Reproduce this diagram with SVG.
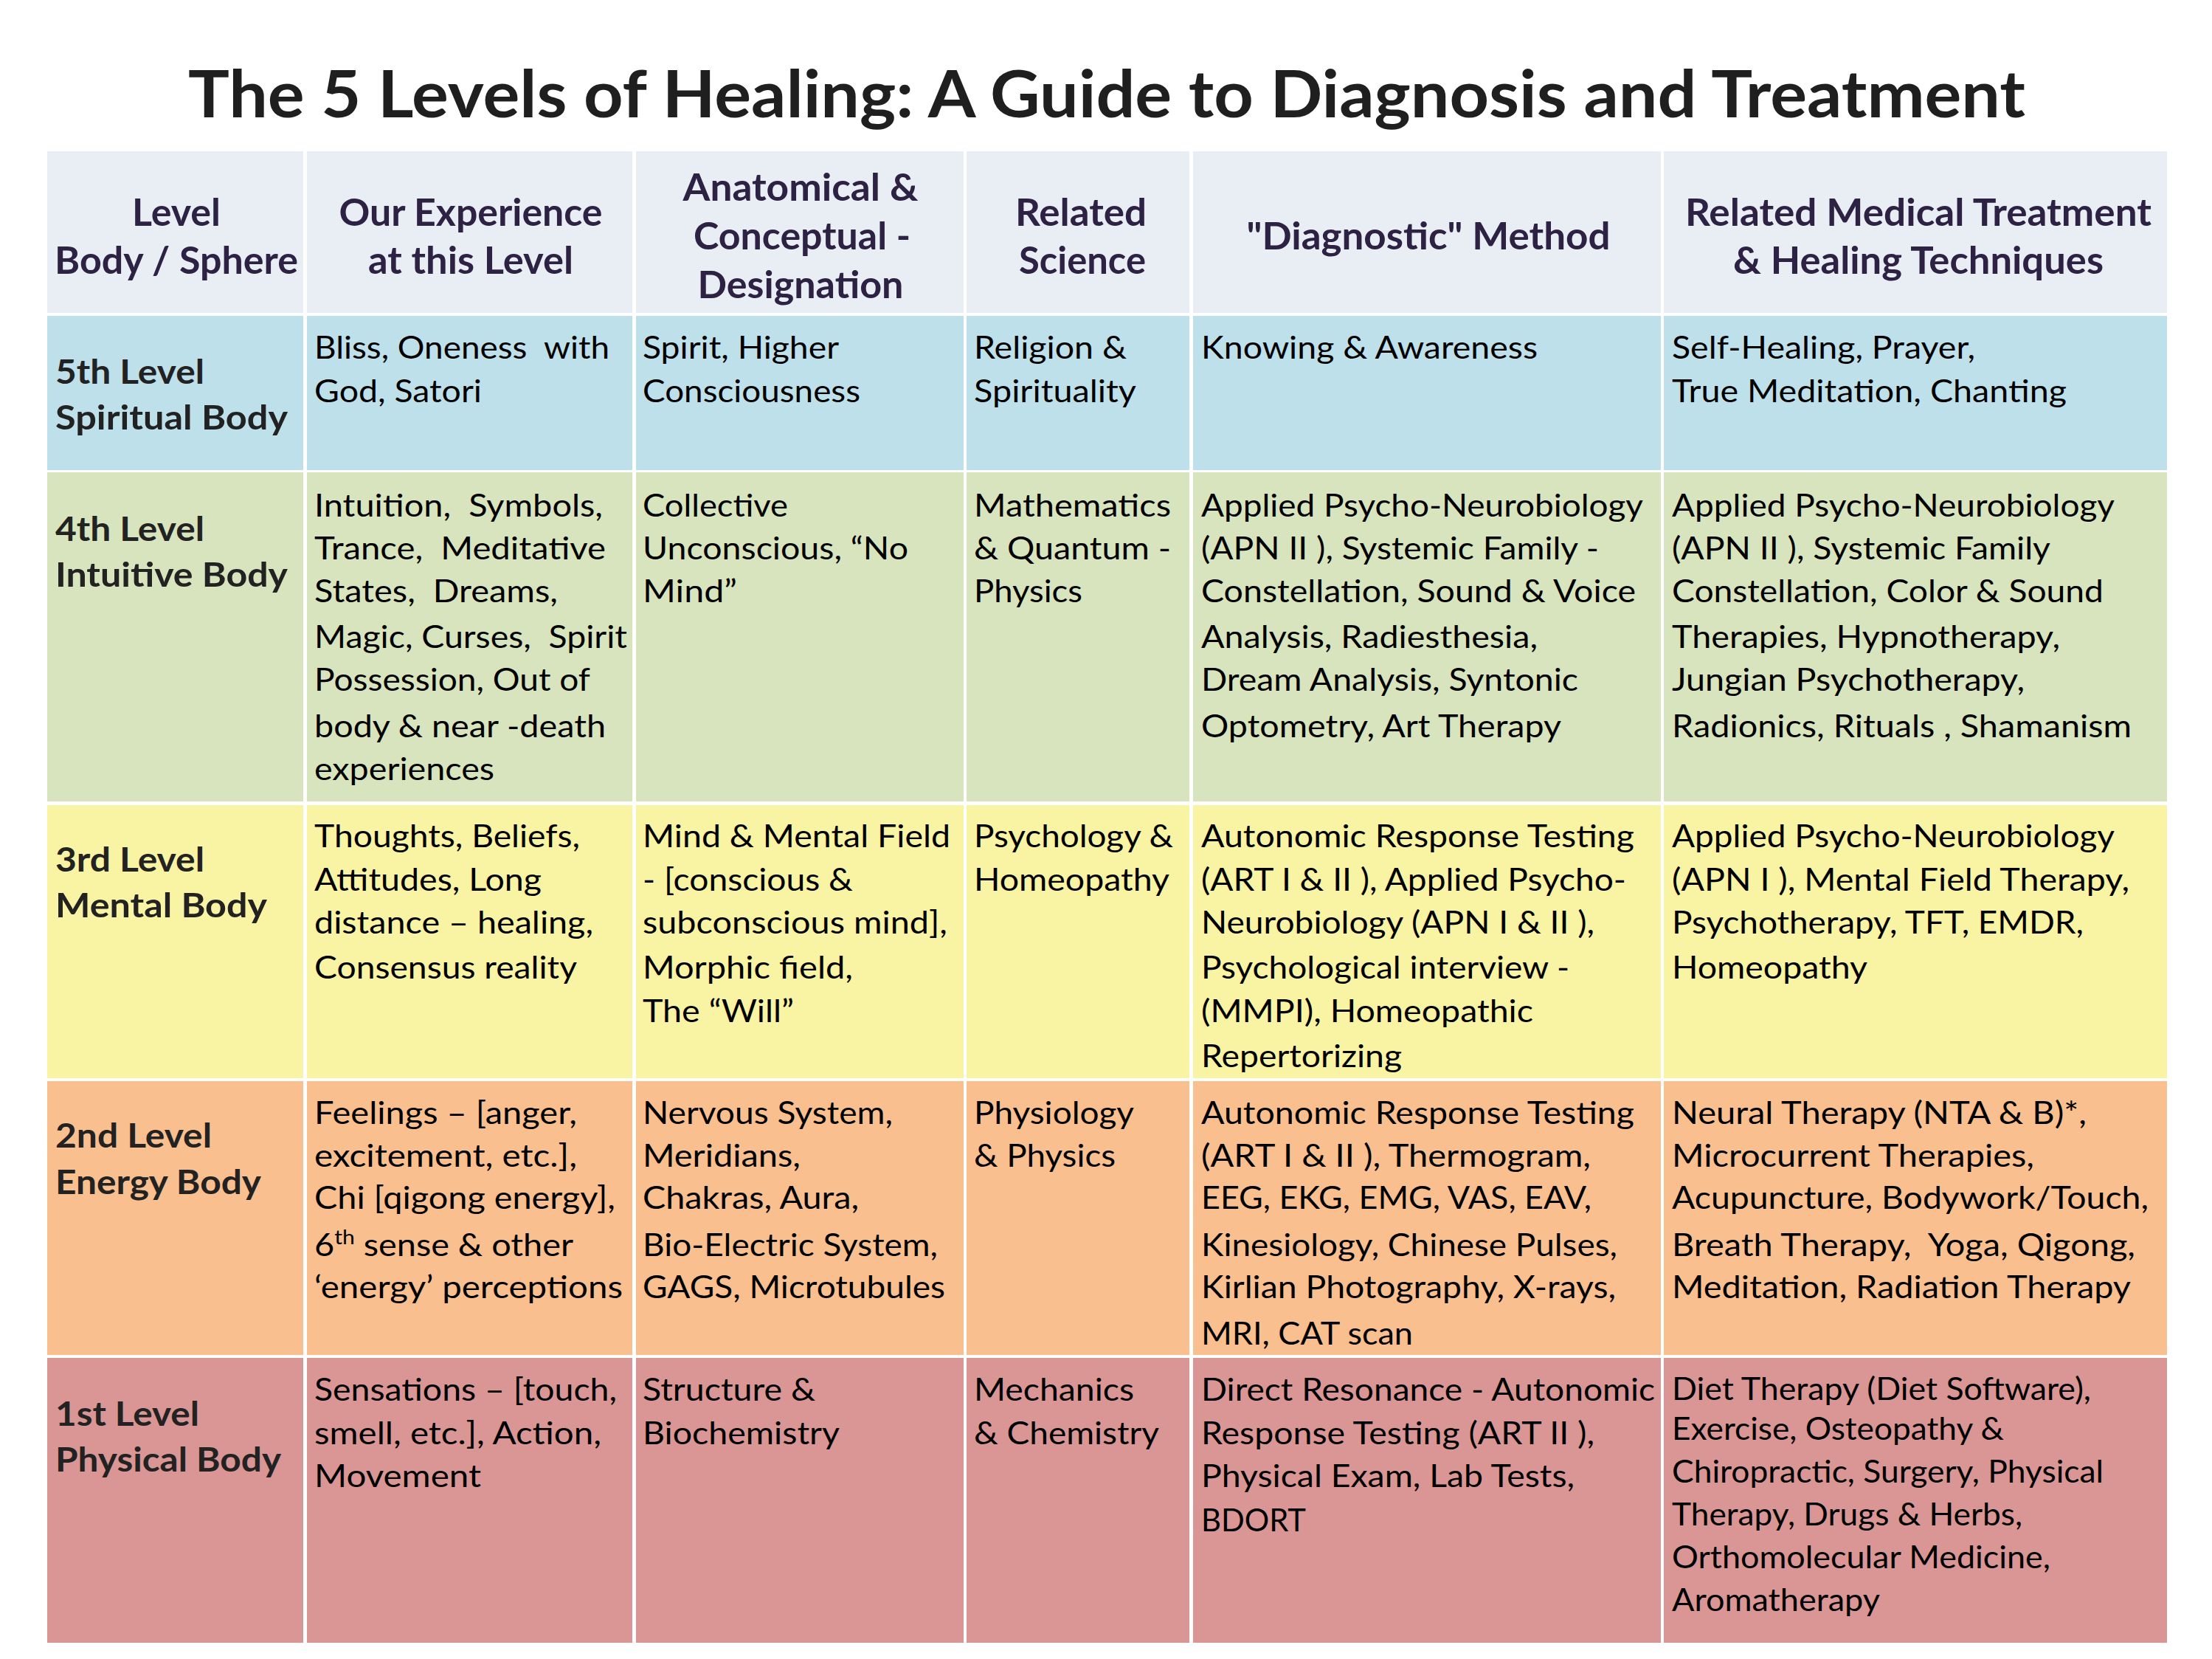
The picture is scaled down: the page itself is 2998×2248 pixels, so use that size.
<svg xmlns="http://www.w3.org/2000/svg" width="2998" height="2248" viewBox="0 0 2998 2248" xml:space="preserve">
<style>
text{font-family:Lato,"Open Sans","Liberation Sans",sans-serif;white-space:pre}
.ti{font-size:88px;font-weight:700;fill:#1f1f1f;text-anchor:middle}
.h{font-size:51px;font-weight:700;fill:#2e2244;text-anchor:middle}
.l{font-size:46px;font-weight:700;fill:#222222}
.b{font-size:42px;fill:#000000}
.hd{fill:#e9edf4}.r5{fill:#bee0ea}.r4{fill:#d8e4bd}.r3{fill:#f9f3a4}.r2{fill:#f9bf8f}.r1{fill:#d99694}
</style>
<rect width="2998" height="2248" fill="#ffffff"/>
<text id="title" class="ti" x="1500" y="159" textLength="2490" lengthAdjust="spacingAndGlyphs">The 5 Levels of Healing: A Guide to Diagnosis and Treatment</text>

<g id="header">
<rect class="hd" x="64" y="205" width="347" height="219"/>
<rect class="hd" x="416" y="205" width="441" height="219"/>
<rect class="hd" x="862" y="205" width="444" height="219"/>
<rect class="hd" x="1310" y="205" width="302" height="219"/>
<rect class="hd" x="1617" y="205" width="634" height="219"/>
<rect class="hd" x="2255" y="205" width="682" height="219"/>
<text class="h" x="239" y="306" textLength="120" lengthAdjust="spacingAndGlyphs">Level</text>
<text class="h" x="239" y="371" textLength="330" lengthAdjust="spacingAndGlyphs">Body / Sphere</text>
<text class="h" x="638" y="306" textLength="357" lengthAdjust="spacingAndGlyphs">Our Experience</text>
<text class="h" x="638" y="371" textLength="278" lengthAdjust="spacingAndGlyphs">at this Level</text>
<text class="h" x="1085" y="272" textLength="319" lengthAdjust="spacingAndGlyphs">Anatomical &amp;</text>
<text class="h" x="1087" y="338" textLength="294" lengthAdjust="spacingAndGlyphs">Conceptual -</text>
<text class="h" x="1085" y="404" textLength="279" lengthAdjust="spacingAndGlyphs">Designation</text>
<text class="h" x="1465" y="306" textLength="178" lengthAdjust="spacingAndGlyphs">Related</text>
<text class="h" x="1467" y="371" textLength="172" lengthAdjust="spacingAndGlyphs">Science</text>
<text class="h" x="1936" y="338" textLength="493" lengthAdjust="spacingAndGlyphs">"Diagnostic" Method</text>
<text class="h" x="2600" y="306" textLength="632" lengthAdjust="spacingAndGlyphs">Related Medical Treatment</text>
<text class="h" x="2600" y="371" textLength="502" lengthAdjust="spacingAndGlyphs">&amp; Healing Techniques</text>
</g>

<g id="level5">
<rect class="r5" x="64" y="428" width="347" height="209"/>
<rect class="r5" x="416" y="428" width="441" height="209"/>
<rect class="r5" x="862" y="428" width="444" height="209"/>
<rect class="r5" x="1310" y="428" width="302" height="209"/>
<rect class="r5" x="1617" y="428" width="634" height="209"/>
<rect class="r5" x="2255" y="428" width="682" height="209"/>
<text class="l" x="75" y="520" textLength="202" lengthAdjust="spacingAndGlyphs">5th Level</text>
<text class="l" x="75" y="582" textLength="315" lengthAdjust="spacingAndGlyphs">Spiritual Body</text>
<text class="b" x="426" y="486" textLength="400" lengthAdjust="spacingAndGlyphs">Bliss, Oneness  with</text>
<text class="b" x="426" y="545" textLength="227" lengthAdjust="spacingAndGlyphs">God, Satori</text>
<text class="b" x="871" y="486" textLength="266" lengthAdjust="spacingAndGlyphs">Spirit, Higher</text>
<text class="b" x="871" y="545" textLength="295" lengthAdjust="spacingAndGlyphs">Consciousness</text>
<text class="b" x="1320" y="486" textLength="207" lengthAdjust="spacingAndGlyphs">Religion &amp;</text>
<text class="b" x="1320" y="545" textLength="220" lengthAdjust="spacingAndGlyphs">Spirituality</text>
<text class="b" x="1628" y="486" textLength="456" lengthAdjust="spacingAndGlyphs">Knowing &amp; Awareness</text>
<text class="b" x="2266" y="486" textLength="411" lengthAdjust="spacingAndGlyphs">Self-Healing, Prayer,</text>
<text class="b" x="2266" y="545" textLength="535" lengthAdjust="spacingAndGlyphs">True Meditation, Chanting</text>
</g>

<g id="level4">
<rect class="r4" x="64" y="640" width="347" height="446"/>
<rect class="r4" x="416" y="640" width="441" height="446"/>
<rect class="r4" x="862" y="640" width="444" height="446"/>
<rect class="r4" x="1310" y="640" width="302" height="446"/>
<rect class="r4" x="1617" y="640" width="634" height="446"/>
<rect class="r4" x="2255" y="640" width="682" height="446"/>
<text class="l" x="75" y="733" textLength="202" lengthAdjust="spacingAndGlyphs">4th Level</text>
<text class="l" x="75" y="795" textLength="315" lengthAdjust="spacingAndGlyphs">Intuitive Body</text>
<text class="b" x="426" y="700" textLength="391" lengthAdjust="spacingAndGlyphs">Intuition,  Symbols,</text>
<text class="b" x="426" y="758" textLength="395" lengthAdjust="spacingAndGlyphs">Trance,  Meditative</text>
<text class="b" x="426" y="816" textLength="330" lengthAdjust="spacingAndGlyphs">States,  Dreams,</text>
<text class="b" x="426" y="878" textLength="424" lengthAdjust="spacingAndGlyphs">Magic, Curses,  Spirit</text>
<text class="b" x="426" y="936" textLength="374" lengthAdjust="spacingAndGlyphs">Possession, Out of</text>
<text class="b" x="426" y="999" textLength="395" lengthAdjust="spacingAndGlyphs">body &amp; near -death</text>
<text class="b" x="426" y="1057" textLength="244" lengthAdjust="spacingAndGlyphs">experiences</text>
<text class="b" x="871" y="700" textLength="197" lengthAdjust="spacingAndGlyphs">Collective</text>
<text class="b" x="871" y="758" textLength="360" lengthAdjust="spacingAndGlyphs">Unconscious, “No</text>
<text class="b" x="871" y="816" textLength="128" lengthAdjust="spacingAndGlyphs">Mind”</text>
<text class="b" x="1320" y="700" textLength="267" lengthAdjust="spacingAndGlyphs">Mathematics</text>
<text class="b" x="1320" y="758" textLength="267" lengthAdjust="spacingAndGlyphs">&amp; Quantum -</text>
<text class="b" x="1320" y="816" textLength="147" lengthAdjust="spacingAndGlyphs">Physics</text>
<text class="b" x="1628" y="700" textLength="599" lengthAdjust="spacingAndGlyphs">Applied Psycho-Neurobiology</text>
<text class="b" x="1628" y="758" textLength="539" lengthAdjust="spacingAndGlyphs">(APN II ), Systemic Family -</text>
<text class="b" x="1628" y="816" textLength="589" lengthAdjust="spacingAndGlyphs">Constellation, Sound &amp; Voice</text>
<text class="b" x="1628" y="878" textLength="456" lengthAdjust="spacingAndGlyphs">Analysis, Radiesthesia,</text>
<text class="b" x="1628" y="936" textLength="511" lengthAdjust="spacingAndGlyphs">Dream Analysis, Syntonic</text>
<text class="b" x="1628" y="999" textLength="488" lengthAdjust="spacingAndGlyphs">Optometry, Art Therapy</text>
<text class="b" x="2266" y="700" textLength="600" lengthAdjust="spacingAndGlyphs">Applied Psycho-Neurobiology</text>
<text class="b" x="2266" y="758" textLength="513" lengthAdjust="spacingAndGlyphs">(APN II ), Systemic Family</text>
<text class="b" x="2266" y="816" textLength="585" lengthAdjust="spacingAndGlyphs">Constellation, Color &amp; Sound</text>
<text class="b" x="2266" y="878" textLength="526" lengthAdjust="spacingAndGlyphs">Therapies, Hypnotherapy,</text>
<text class="b" x="2266" y="936" textLength="478" lengthAdjust="spacingAndGlyphs">Jungian Psychotherapy,</text>
<text class="b" x="2266" y="999" textLength="623" lengthAdjust="spacingAndGlyphs">Radionics, Rituals , Shamanism</text>
</g>

<g id="level3">
<rect class="r3" x="64" y="1091" width="347" height="370"/>
<rect class="r3" x="416" y="1091" width="441" height="370"/>
<rect class="r3" x="862" y="1091" width="444" height="370"/>
<rect class="r3" x="1310" y="1091" width="302" height="370"/>
<rect class="r3" x="1617" y="1091" width="634" height="370"/>
<rect class="r3" x="2255" y="1091" width="682" height="370"/>
<text class="l" x="75" y="1181" textLength="202" lengthAdjust="spacingAndGlyphs">3rd Level</text>
<text class="l" x="75" y="1243" textLength="287" lengthAdjust="spacingAndGlyphs">Mental Body</text>
<text class="b" x="426" y="1148" textLength="360" lengthAdjust="spacingAndGlyphs">Thoughts, Beliefs,</text>
<text class="b" x="426" y="1207" textLength="308" lengthAdjust="spacingAndGlyphs">Attitudes, Long</text>
<text class="b" x="426" y="1265" textLength="378" lengthAdjust="spacingAndGlyphs">distance – healing,</text>
<text class="b" x="426" y="1326" textLength="356" lengthAdjust="spacingAndGlyphs">Consensus reality</text>
<text class="b" x="871" y="1148" textLength="417" lengthAdjust="spacingAndGlyphs">Mind &amp; Mental Field</text>
<text class="b" x="871" y="1207" textLength="285" lengthAdjust="spacingAndGlyphs">- [conscious &amp;</text>
<text class="b" x="871" y="1265" textLength="413" lengthAdjust="spacingAndGlyphs">subconscious mind],</text>
<text class="b" x="871" y="1326" textLength="285" lengthAdjust="spacingAndGlyphs">Morphic field,</text>
<text class="b" x="871" y="1385" textLength="205" lengthAdjust="spacingAndGlyphs">The “Will”</text>
<text class="b" x="1320" y="1148" textLength="270" lengthAdjust="spacingAndGlyphs">Psychology &amp;</text>
<text class="b" x="1320" y="1207" textLength="265" lengthAdjust="spacingAndGlyphs">Homeopathy</text>
<text class="b" x="1628" y="1148" textLength="587" lengthAdjust="spacingAndGlyphs">Autonomic Response Testing</text>
<text class="b" x="1628" y="1207" textLength="576" lengthAdjust="spacingAndGlyphs">(ART I &amp; II ), Applied Psycho-</text>
<text class="b" x="1628" y="1265" textLength="533" lengthAdjust="spacingAndGlyphs">Neurobiology (APN I &amp; II ),</text>
<text class="b" x="1628" y="1326" textLength="499" lengthAdjust="spacingAndGlyphs">Psychological interview -</text>
<text class="b" x="1628" y="1385" textLength="450" lengthAdjust="spacingAndGlyphs">(MMPI), Homeopathic</text>
<text class="b" x="1628" y="1446" textLength="272" lengthAdjust="spacingAndGlyphs">Repertorizing</text>
<text class="b" x="2266" y="1148" textLength="600" lengthAdjust="spacingAndGlyphs">Applied Psycho-Neurobiology</text>
<text class="b" x="2266" y="1207" textLength="620" lengthAdjust="spacingAndGlyphs">(APN I ), Mental Field Therapy,</text>
<text class="b" x="2266" y="1265" textLength="558" lengthAdjust="spacingAndGlyphs">Psychotherapy, TFT, EMDR,</text>
<text class="b" x="2266" y="1326" textLength="265" lengthAdjust="spacingAndGlyphs">Homeopathy</text>
</g>

<g id="level2">
<rect class="r2" x="64" y="1465" width="347" height="371"/>
<rect class="r2" x="416" y="1465" width="441" height="371"/>
<rect class="r2" x="862" y="1465" width="444" height="371"/>
<rect class="r2" x="1310" y="1465" width="302" height="371"/>
<rect class="r2" x="1617" y="1465" width="634" height="371"/>
<rect class="r2" x="2255" y="1465" width="682" height="371"/>
<text class="l" x="75" y="1555" textLength="212" lengthAdjust="spacingAndGlyphs">2nd Level</text>
<text class="l" x="75" y="1618" textLength="279" lengthAdjust="spacingAndGlyphs">Energy Body</text>
<text class="b" x="426" y="1523" textLength="356" lengthAdjust="spacingAndGlyphs">Feelings – [anger,</text>
<text class="b" x="426" y="1581" textLength="356" lengthAdjust="spacingAndGlyphs">excitement, etc.],</text>
<text class="b" x="426" y="1638" textLength="408" lengthAdjust="spacingAndGlyphs">Chi [qigong energy],</text>
<text class="b" x="426" y="1702" textLength="351" lengthAdjust="spacingAndGlyphs">6<tspan font-size="27" dy="-16">th</tspan><tspan dy="16"> sense &amp; other</tspan></text>
<text class="b" x="426" y="1759" textLength="418" lengthAdjust="spacingAndGlyphs">‘energy’ perceptions</text>
<text class="b" x="871" y="1523" textLength="339" lengthAdjust="spacingAndGlyphs">Nervous System,</text>
<text class="b" x="871" y="1581" textLength="214" lengthAdjust="spacingAndGlyphs">Meridians,</text>
<text class="b" x="871" y="1638" textLength="293" lengthAdjust="spacingAndGlyphs">Chakras, Aura,</text>
<text class="b" x="871" y="1702" textLength="400" lengthAdjust="spacingAndGlyphs">Bio-Electric System,</text>
<text class="b" x="871" y="1759" textLength="410" lengthAdjust="spacingAndGlyphs">GAGS, Microtubules</text>
<text class="b" x="1320" y="1523" textLength="217" lengthAdjust="spacingAndGlyphs">Physiology</text>
<text class="b" x="1320" y="1581" textLength="192" lengthAdjust="spacingAndGlyphs">&amp; Physics</text>
<text class="b" x="1628" y="1523" textLength="587" lengthAdjust="spacingAndGlyphs">Autonomic Response Testing</text>
<text class="b" x="1628" y="1581" textLength="528" lengthAdjust="spacingAndGlyphs">(ART I &amp; II ), Thermogram,</text>
<text class="b" x="1628" y="1638" textLength="529" lengthAdjust="spacingAndGlyphs">EEG, EKG, EMG, VAS, EAV,</text>
<text class="b" x="1628" y="1702" textLength="564" lengthAdjust="spacingAndGlyphs">Kinesiology, Chinese Pulses,</text>
<text class="b" x="1628" y="1759" textLength="562" lengthAdjust="spacingAndGlyphs">Kirlian Photography, X-rays,</text>
<text class="b" x="1628" y="1822" textLength="287" lengthAdjust="spacingAndGlyphs">MRI, CAT scan</text>
<text class="b" x="2266" y="1523" textLength="562" lengthAdjust="spacingAndGlyphs">Neural Therapy (NTA &amp; B)*,</text>
<text class="b" x="2266" y="1581" textLength="491" lengthAdjust="spacingAndGlyphs">Microcurrent Therapies,</text>
<text class="b" x="2266" y="1638" textLength="646" lengthAdjust="spacingAndGlyphs">Acupuncture, Bodywork/Touch,</text>
<text class="b" x="2266" y="1702" textLength="628" lengthAdjust="spacingAndGlyphs">Breath Therapy,  Yoga, Qigong,</text>
<text class="b" x="2266" y="1759" textLength="622" lengthAdjust="spacingAndGlyphs">Meditation, Radiation Therapy</text>
</g>

<g id="level1">
<rect class="r1" x="64" y="1840" width="347" height="386"/>
<rect class="r1" x="416" y="1840" width="441" height="386"/>
<rect class="r1" x="862" y="1840" width="444" height="386"/>
<rect class="r1" x="1310" y="1840" width="302" height="386"/>
<rect class="r1" x="1617" y="1840" width="634" height="386"/>
<rect class="r1" x="2255" y="1840" width="682" height="386"/>
<text class="l" x="75" y="1932" textLength="195" lengthAdjust="spacingAndGlyphs">1st Level</text>
<text class="l" x="75" y="1994" textLength="306" lengthAdjust="spacingAndGlyphs">Physical Body</text>
<text class="b" x="426" y="1898" textLength="410" lengthAdjust="spacingAndGlyphs">Sensations – [touch,</text>
<text class="b" x="426" y="1957" textLength="389" lengthAdjust="spacingAndGlyphs">smell, etc.], Action,</text>
<text class="b" x="426" y="2015" textLength="226" lengthAdjust="spacingAndGlyphs">Movement</text>
<text class="b" x="871" y="1898" textLength="234" lengthAdjust="spacingAndGlyphs">Structure &amp;</text>
<text class="b" x="871" y="1957" textLength="267" lengthAdjust="spacingAndGlyphs">Biochemistry</text>
<text class="b" x="1320" y="1898" textLength="217" lengthAdjust="spacingAndGlyphs">Mechanics</text>
<text class="b" x="1320" y="1957" textLength="251" lengthAdjust="spacingAndGlyphs">&amp; Chemistry</text>
<text class="b" x="1628" y="1898" textLength="615" lengthAdjust="spacingAndGlyphs">Direct Resonance - Autonomic</text>
<text class="b" x="1628" y="1957" textLength="533" lengthAdjust="spacingAndGlyphs">Response Testing (ART II ),</text>
<text class="b" x="1628" y="2015" textLength="506" lengthAdjust="spacingAndGlyphs">Physical Exam, Lab Tests,</text>
<text class="b" x="1628" y="2075" textLength="142" lengthAdjust="spacingAndGlyphs">BDORT</text>
<text class="b" x="2266" y="1897" textLength="568" lengthAdjust="spacingAndGlyphs">Diet Therapy (Diet Software),</text>
<text class="b" x="2266" y="1951" textLength="450" lengthAdjust="spacingAndGlyphs">Exercise, Osteopathy &amp;</text>
<text class="b" x="2266" y="2009" textLength="585" lengthAdjust="spacingAndGlyphs">Chiropractic, Surgery, Physical</text>
<text class="b" x="2266" y="2067" textLength="475" lengthAdjust="spacingAndGlyphs">Therapy, Drugs &amp; Herbs,</text>
<text class="b" x="2266" y="2125" textLength="513" lengthAdjust="spacingAndGlyphs">Orthomolecular Medicine,</text>
<text class="b" x="2266" y="2183" textLength="282" lengthAdjust="spacingAndGlyphs">Aromatherapy</text>
</g>

<g id="connectors"></g>
</svg>
